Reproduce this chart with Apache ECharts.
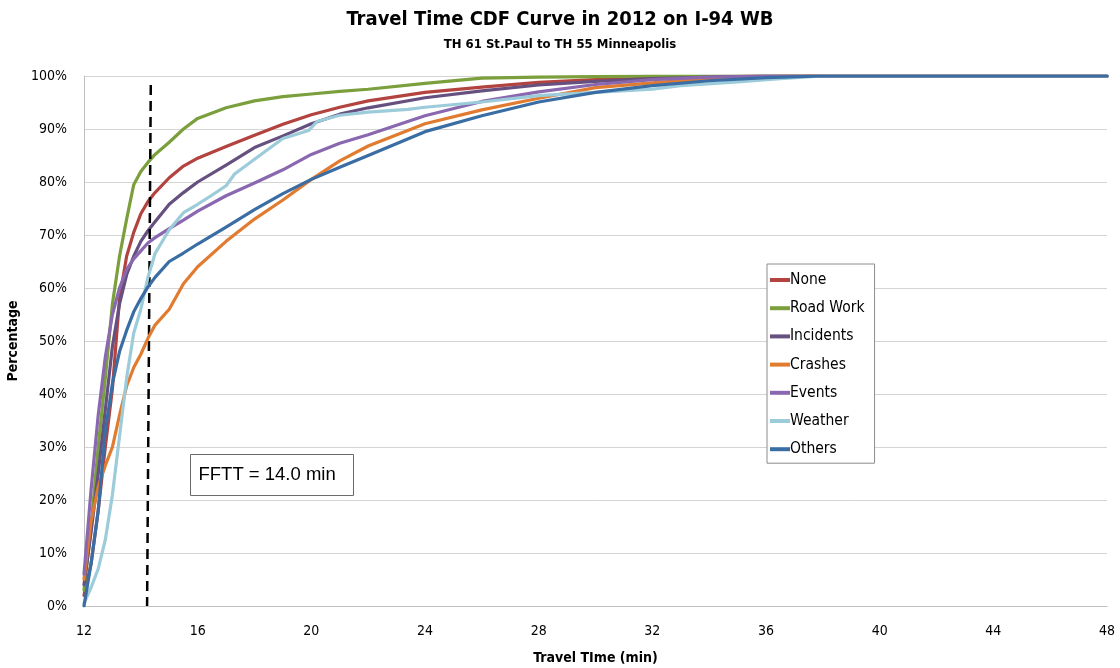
<!DOCTYPE html>
<html>
<head>
<meta charset="utf-8">
<script src="https://cdn.jsdelivr.net/npm/echarts@6/dist/echarts.min.js"></script>
<style>
html,body{margin:0;padding:0;background:#fff;}
#chart{width:1120px;height:668px;}
</style>
</head>
<body>
<div id="chart"></div>
<script>
// ---- Data ----
const travelTime = [12, 12.25, 12.5, 12.75, 13, 13.25, 13.5, 13.75, 14, 14.25, 14.5, 15, 15.5, 16, 17, 18, 19, 20, 21, 22, 24, 26, 28, 30, 32, 34, 36, 38, 40, 48];
const noneValues      = [2, 8, 18, 30, 41, 58, 66, 70.5, 74, 76.3, 78, 80.8, 83, 84.5, 86.7, 88.8, 90.9, 92.7, 94.1, 95.3, 96.9, 97.9, 98.8, 99.3, 99.6, 99.9, 100, 100, 100, 100];
const roadWorkValues  = [3, 15, 30, 43, 57, 66, 73, 79.5, 82, 83.7, 85.2, 87.5, 90, 92, 94, 95.3, 96.1, 96.6, 97.1, 97.5, 98.6, 99.6, 99.8, 99.9, 100, 100, 100, 100, 100, 100];
const incidentValues  = [4, 14, 25, 37, 49, 57, 62.5, 66, 68.8, 70.8, 72.5, 75.8, 78, 80, 83.2, 86.5, 88.7, 91, 92.8, 94, 95.9, 97.2, 98.3, 99, 99.5, 99.8, 100, 100, 100, 100];
const crashValues     = [5, 16, 22.5, 26.5, 30, 36, 41.5, 45, 47.5, 50.5, 53, 56, 60.8, 64, 68.8, 73, 76.6, 80.5, 84, 86.8, 91, 93.6, 95.8, 97.8, 98.7, 99.5, 99.9, 100, 100, 100];
const eventValues     = [6, 22, 36, 47, 55, 60, 63.5, 65.5, 67, 68.5, 69.5, 71.2, 72.8, 74.5, 77.4, 79.8, 82.3, 85.2, 87.3, 88.9, 92.5, 95.2, 97, 98.4, 99.3, 99.8, 100, 100, 100, 100];
const otherValues     = [0, 8, 18, 33, 42, 48, 52, 55.5, 58, 60.2, 62, 65, 66.6, 68.3, 71.5, 74.8, 77.8, 80.5, 82.8, 85, 89.5, 92.5, 95.1, 96.9, 98.2, 99.1, 99.7, 100, 100, 100];
const weatherTime     = [12, 12.25, 12.5, 12.75, 13, 13.25, 13.5, 13.75, 14, 14.25, 14.5, 15, 15.5, 16, 16.5, 17, 17.3, 18, 19, 19.9, 20.2, 21, 22, 23.4, 24, 26, 28, 30, 32, 33, 35, 36.5, 38, 40, 48];
const weatherValues   = [0.5, 3.5, 7, 12.5, 21, 32, 43, 51.5, 56, 62, 66.5, 71, 74.2, 75.8, 77.5, 79.3, 81.5, 84.3, 88.2, 89.7, 91.4, 92.6, 93.2, 93.7, 94.1, 95.1, 96.3, 96.9, 97.5, 98.2, 98.9, 99.5, 100, 100, 100];
const seriesNames = ['None', 'Road Work', 'Incidents', 'Crashes', 'Events', 'Weather', 'Others'];
const fftt = 14.0;
const fftLineTop = [14.35, 98.3];
const fftLineBottom = [14.22, 0];
const xTicks = { min: 12, max: 48, step: 4 };
const yTicks = { min: 0, max: 100, step: 10 };

// ---- Styles ----
const colors = ['#B3433F', '#7A9F3C', '#65507F', '#E07B30', '#8A68B0', '#9CCBDA', '#3A6DA3'];
const narrow = '"Liberation Sans Narrow", "DejaVu Sans Condensed", "Noto Sans", sans-serif';

function pairs(xs, ys) { return xs.map((x, i) => [x, ys[i]]); }
const seriesData = [
  pairs(travelTime, noneValues),
  pairs(travelTime, roadWorkValues),
  pairs(travelTime, incidentValues),
  pairs(travelTime, crashValues),
  pairs(travelTime, eventValues),
  pairs(weatherTime, weatherValues),
  pairs(travelTime, otherValues)
];

const chart = echarts.init(document.getElementById('chart'), null, { renderer: 'canvas' });

const series = seriesNames.map((name, i) => ({
  name: name,
  type: 'line',
  data: seriesData[i],
  showSymbol: false,
  symbol: 'none',
  smooth: false,
  lineStyle: { color: colors[i], width: 3.2, join: 'round', cap: 'round' },
  itemStyle: { color: colors[i] },
  z: 2 + i,
  animation: false
}));

series.push({
  name: 'FFTT',
  type: 'line',
  data: [],
  silent: true,
  animation: false,
  markLine: {
    silent: true,
    symbol: ['none', 'none'],
    label: { show: false },
    lineStyle: { color: '#000', width: 2.5, type: [10, 6] },
    data: [[{ coord: fftLineTop }, { coord: fftLineBottom }]]
  },
  z: 20
});

chart.setOption({
  animation: false,
  backgroundColor: '#fff',
  title: {
    text: 'Travel Time CDF Curve in 2012 on I-94 WB',
    subtext: 'TH 61 St.Paul to TH 55 Minneapolis',
    left: 'center',
    top: 5,
    itemGap: 8,
    textStyle: { fontFamily: narrow, fontSize: 20, fontWeight: 'bold', color: '#000' },
    subtextStyle: { fontFamily: narrow, fontSize: 13, fontWeight: 'bold', color: '#000' }
  },
  grid: { left: 84, right: 13, top: 76, bottom: 62, containLabel: false, outerBoundsMode: 'none' },
  legend: {
    data: seriesNames,
    orient: 'vertical',
    left: 767,
    top: 264,
    width: 105,
    padding: [8, 10, 6, 3],
    itemGap: 12.2,
    itemWidth: 20,
    itemHeight: 4,
    icon: 'rect',
    borderColor: '#8c8c8c',
    borderWidth: 1,
    backgroundColor: '#fff',
    textStyle: { fontFamily: narrow, fontSize: 15.5, color: '#000', padding: [0, 0, 0, -5] }
  },
  xAxis: {
    type: 'value',
    min: xTicks.min,
    max: xTicks.max,
    interval: xTicks.step,
    name: 'Travel TIme (min)',
    nameLocation: 'middle',
    nameGap: 45,
    nameTextStyle: { fontFamily: narrow, fontSize: 14, fontWeight: 'bold', color: '#000' },
    axisLine: { show: true, lineStyle: { color: '#bfbfbf', width: 1 } },
    axisTick: { show: false },
    splitLine: { show: false },
    axisLabel: { fontFamily: narrow, fontSize: 14, color: '#000', margin: 18 }
  },
  yAxis: {
    type: 'value',
    min: yTicks.min,
    max: yTicks.max,
    interval: yTicks.step,
    name: 'Percentage',
    nameLocation: 'middle',
    nameRotate: 90,
    nameGap: 58,
    nameTextStyle: { fontFamily: narrow, fontSize: 14, fontWeight: 'bold', color: '#000' },
    axisLine: { show: true, lineStyle: { color: '#bfbfbf', width: 1 } },
    axisTick: { show: false },
    splitLine: { show: true, lineStyle: { color: '#d4d4d4', width: 1 } },
    axisLabel: { fontFamily: narrow, fontSize: 14, color: '#000', margin: 17, formatter: '{value}%' }
  },
  graphic: [{
    type: 'group',
    left: 190,
    top: 454,
    z: 100,
    children: [
      { type: 'rect', shape: { x: 0, y: 0, width: 163, height: 41 }, style: { fill: '#fff', stroke: '#6b6b6b', lineWidth: 1 } },
      { type: 'text', x: 8, y: 20.5, style: { text: 'FFTT = ' + fftt.toFixed(1) + ' min', fill: '#000', font: '18.5px "Liberation Sans", "Open Sans", sans-serif', textVerticalAlign: 'middle' } }
    ]
  }],
  series: series
});
</script>
</body>
</html>
